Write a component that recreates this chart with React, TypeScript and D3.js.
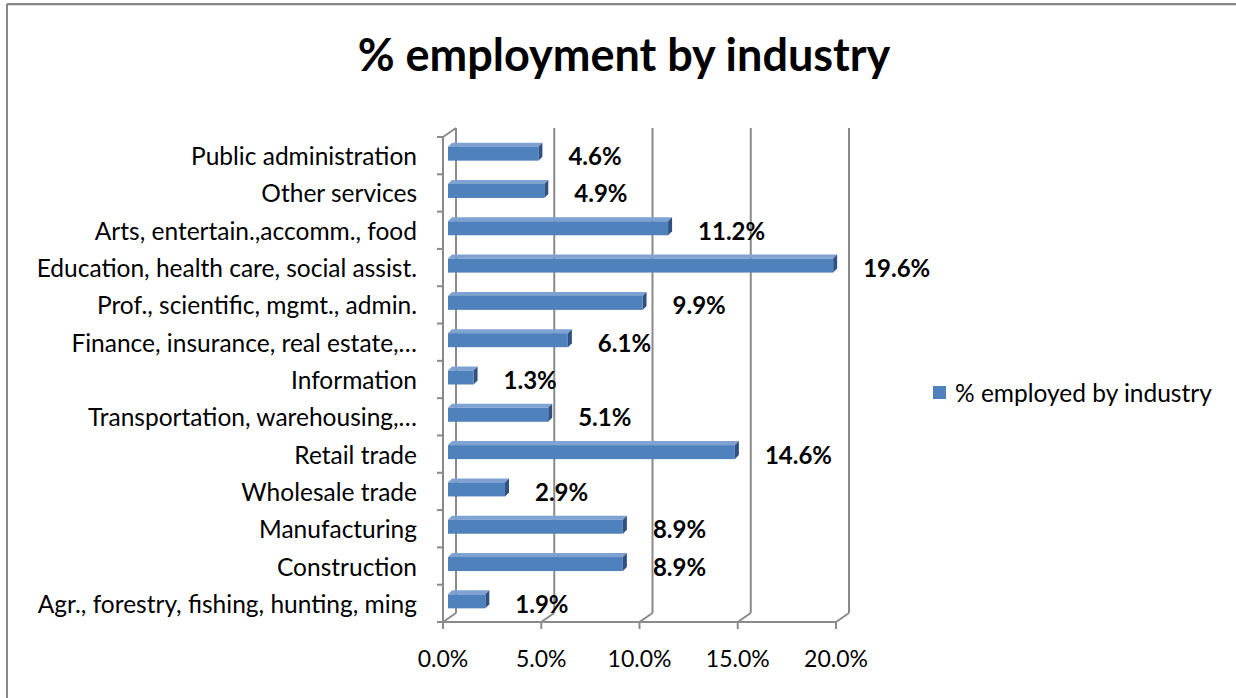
import React from "react";
import * as d3 from "d3";

const categories = [
  "Public administration",
  "Other services",
  "Arts, entertain.,accomm., food",
  "Education, health care, social assist.",
  "Prof., scientific, mgmt., admin.",
  "Finance, insurance, real estate,…",
  "Information",
  "Transportation, warehousing,…",
  "Retail trade",
  "Wholesale trade",
  "Manufacturing",
  "Construction",
  "Agr., forestry, fishing, hunting, ming",
];
const values = [4.6, 4.9, 11.2, 19.6, 9.9, 6.1, 1.3, 5.1, 14.6, 2.9, 8.9, 8.9, 1.9];
const xTicks = [0, 5, 10, 15, 20];
const title = "% employment by industry";
const seriesName = "% employed by industry";

const W = 1236;
const H = 698;
const FONT = "Lato, 'Open Sans', sans-serif";
const GRID = "#8a8a8a";

export default function App() {
  const plotLeft = 443;
  const plotRight = 836;
  const plotTop = 137;
  const plotBottom = 622;
  const depthX = 13;
  const depthY = -9;
  const barDX = 4;
  const barDY = -4;

  const x = d3.scaleLinear().domain([0, 20]).range([plotLeft, plotRight]);
  const y = d3.scaleBand<string>().domain(categories).range([plotTop, plotBottom]).padding(0);
  const barH = 14;
  const barOffset = 5;
  const fmt = (v: number) => d3.format(".1f")(v) + "%";

  const boundaries = d3.range(categories.length + 1).map((i) => plotTop + i * y.step());

  return (
    <svg width={W} height={H} style={{ position: "absolute", left: 0, top: 0, background: "#fff" }}>
      <rect x={0} y={0} width={W} height={H} fill="#fff" />
      {/* chart border */}
      <line x1={7} y1={4} x2={W} y2={4} stroke="#888" strokeWidth={2} />
      <line x1={7} y1={4} x2={7} y2={H} stroke="#888" strokeWidth={2} />
      <line x1={8} y1={5.5} x2={W} y2={5.5} stroke="#ddd" strokeWidth={1} />

      <text x={624} y={71} textAnchor="middle" fontFamily={FONT} fontWeight="bold" fontSize={45} fill="#000">
        {title}
      </text>

      {/* back wall gridlines and floor */}
      {xTicks.map((t) => (
        <g key={"g" + t}>
          <line x1={x(t) + depthX} y1={plotTop + depthY} x2={x(t) + depthX} y2={plotBottom + depthY} stroke={GRID} strokeWidth={2} />
          <line x1={x(t) + depthX} y1={plotBottom + depthY} x2={x(t)} y2={plotBottom} stroke={GRID} strokeWidth={2} />
        </g>
      ))}
      {/* left wall */}
      <line x1={plotLeft} y1={plotTop} x2={plotLeft} y2={plotBottom} stroke={GRID} strokeWidth={2} />
      <line x1={plotLeft} y1={plotTop} x2={plotLeft + depthX} y2={plotTop + depthY} stroke={GRID} strokeWidth={2} />
      {boundaries.map((b, i) => (
        <line key={"yt" + i} x1={plotLeft - 6} y1={b} x2={plotLeft} y2={b} stroke={GRID} strokeWidth={2} />
      ))}
      {/* front bottom axis */}
      <line x1={plotLeft} y1={plotBottom} x2={plotRight} y2={plotBottom} stroke={GRID} strokeWidth={2} />
      {xTicks.map((t) => (
        <g key={"xt" + t}>
          <line x1={x(t)} y1={plotBottom} x2={x(t)} y2={plotBottom + 7} stroke={GRID} strokeWidth={2} />
          <text x={x(t)} y={658} textAnchor="middle" dominantBaseline="central" fontFamily={FONT} fontSize={23} fill="#000">
            {fmt(t)}
          </text>
        </g>
      ))}

      {/* bars */}
      {categories.map((c, i) => {
        const cy = (y(c) as number) + y.bandwidth() / 2 - 2;
        const x0 = x(0) + barOffset;
        const x1 = x(values[i]) + barOffset;
        const top = cy - barH / 2;
        const bot = cy + barH / 2;
        return (
          <g key={"b" + i}>
            <polygon
              points={`${x0},${top} ${x0 + barDX},${top + barDY} ${x1 + barDX},${top + barDY} ${x1},${top}`}
              fill="#7ea3d3"
            />
            <polygon
              points={`${x1},${top} ${x1 + barDX},${top + barDY} ${x1 + barDX},${bot + barDY} ${x1},${bot}`}
              fill="#2f5283"
            />
            <rect x={x0} y={top} width={x1 - x0} height={barH} fill="#4f81bd" />
            <text
              x={x1 + 30}
              y={(y(c) as number) + y.bandwidth() / 2}
              dominantBaseline="central"
              fontFamily={FONT}
              fontWeight="bold"
              fontSize={24}
              fill="#000"
            >
              {fmt(values[i])}
            </text>
          </g>
        );
      })}

      {/* category labels */}
      {categories.map((c) => (
        <text
          key={"l" + c}
          x={417}
          y={(y(c) as number) + y.bandwidth() / 2}
          textAnchor="end"
          dominantBaseline="central"
          fontFamily={FONT}
          fontSize={24.5}
          fill="#000"
        >
          {c}
        </text>
      ))}

      {/* legend */}
      <rect x={933} y={386} width={13} height={13} fill="#4f81bd" />
      <text x={955} y={392} dominantBaseline="central" fontFamily={FONT} fontSize={24.5} fill="#000">
        {seriesName}
      </text>
    </svg>
  );
}
